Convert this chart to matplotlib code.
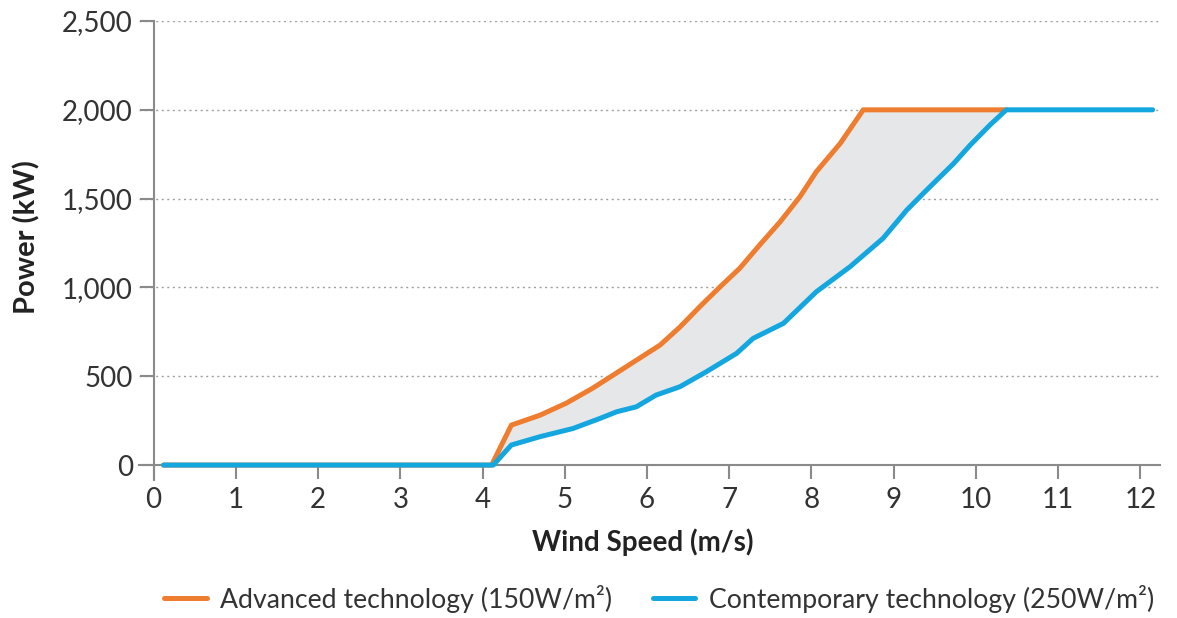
import matplotlib
matplotlib.use("Agg")
import matplotlib.pyplot as plt
import numpy as np

plt.rcParams['font.family'] = ['Lato', 'DejaVu Sans']

# Power curves (wind speed m/s, power kW)
adv_speed = [0.12, 4.11, 4.35, 4.70, 5.02, 5.34, 5.59, 5.91, 6.16, 6.40, 6.66,
             6.89, 7.13, 7.37, 7.62, 7.86, 8.06, 8.35, 8.63, 10.37]
adv_power = [0, 0, 225, 281, 349, 433, 507, 602, 676, 777, 900,
             1004, 1109, 1239, 1370, 1511, 1652, 1811, 2000, 2000]

con_speed = [0.12, 4.13, 4.35, 4.70, 5.10, 5.43, 5.63, 5.87, 6.11, 6.40, 6.72,
             7.09, 7.29, 7.66, 8.06, 8.47, 8.87, 9.16, 9.40, 9.73, 9.93,
             10.17, 10.37, 12.15]
con_power = [0, 0, 113, 160, 206, 263, 300, 328, 394, 441, 525,
             629, 713, 798, 976, 1117, 1276, 1436, 1548, 1698, 1801,
             1914, 2000, 2000]

x_ticks = list(range(0, 13))
y_ticks = [0, 500, 1000, 1500, 2000, 2500]

orange = '#ee7d2f'
blue = '#14a7df'

fig = plt.figure(figsize=(11.77, 6.18), dpi=100)
ax = fig.add_axes([0.118, 0.2233, 0.8676, 0.7427])

# shaded gap between the two curves
grid_x = np.union1d(adv_speed, con_speed)
grid_x = grid_x[grid_x <= 10.37]
ax.fill_between(grid_x, np.interp(grid_x, con_speed, con_power),
                np.interp(grid_x, adv_speed, adv_power),
                color='#e6e7e8', lw=0, zorder=1)

ax.plot(adv_speed, adv_power, color=orange, lw=3.6, solid_capstyle='round',
        label='Advanced technology (150W/m²)', zorder=3)
ax.plot(con_speed, con_power, color=blue, lw=3.6, solid_capstyle='round',
        label='Contemporary technology (250W/m²)', zorder=4)

ax.set_xlim(-0.18, 12.24)
ax.set_ylim(-84, 2500)
ax.set_xticks(x_ticks)
ax.set_yticks(y_ticks)
ax.set_yticklabels([f'{v:,}' for v in y_ticks])

for s in ['top', 'right']:
    ax.spines[s].set_visible(False)
ax.spines['left'].set_position(('data', 0))
ax.spines['bottom'].set_position(('data', 0))
for s in ['left', 'bottom']:
    ax.spines[s].set_color('#8a8a8a')
    ax.spines[s].set_linewidth(1.5)

ax.tick_params(axis='both', colors='#8a8a8a', width=1.5, length=10,
               labelsize=20, labelcolor='#333333')
ax.tick_params(axis='x', pad=6)
ax.tick_params(axis='y', pad=5)

for v in y_ticks[1:]:
    ax.axhline(v, color='#a0a0a0', lw=1, ls=(0, (1.5, 2.5)), zorder=0)

ax.set_xlabel('Wind Speed (m/s)', fontsize=20, fontweight='bold', color='#222222')
ax.xaxis.set_label_coords(0.493, -0.105)
ax.set_ylabel('Power (kW)', fontsize=21, fontweight='bold', color='#222222')
ax.yaxis.set_label_coords(-0.096, 0.53)

fig.legend(loc='lower center', bbox_to_anchor=(0.56, -0.03), ncol=2,
           frameon=False, fontsize=19.2, handlelength=1.6, handletextpad=0.5,
           columnspacing=1.5, labelcolor='#333333')

fig.savefig('out.png', dpi=100)
